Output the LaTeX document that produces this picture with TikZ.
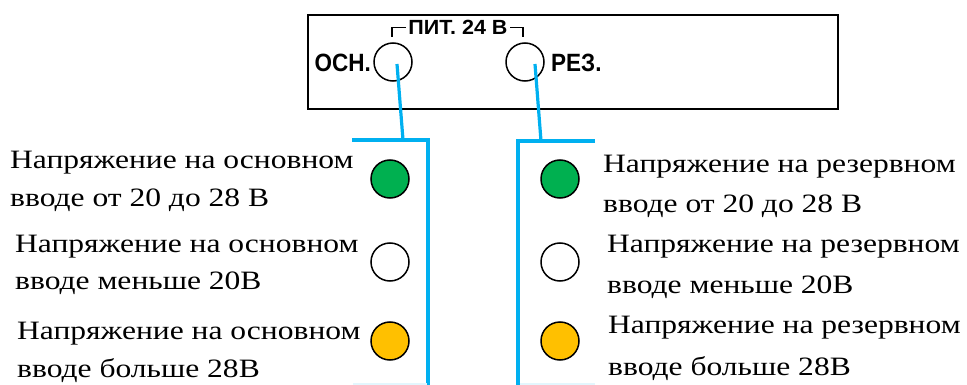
\documentclass[tikz,border=0pt]{standalone}
\usepackage{fontspec}
\setmainfont[FakeStretch=1.19]{Liberation Serif}
\newfontfamily\panelfont[FakeStretch=1.05]{Liberation Sans}
\newfontfamily\panelnarrow[FakeStretch=0.9]{Liberation Sans}
\definecolor{wire}{HTML}{00B0F0}
\definecolor{wirefade}{HTML}{E3F6FD}
\definecolor{ledgreen}{HTML}{00B050}
\definecolor{ledyellow}{HTML}{FFC000}
\tikzset{
  panel/.style={draw=black, line width=1.6pt},
  socket/.style={circle, draw=black, line width=1.5pt, minimum size=38pt, inner sep=0pt},
  led/.style={circle, draw=black, line width=1.5pt, minimum size=38pt, inner sep=0pt},
  wireline/.style={draw=wire, line width=3.2pt},
  wirefaint/.style={draw=wirefade, line width=2pt},
  caption/.style={anchor=base west, inner sep=0pt, font=\fontsize{26.5}{30}\selectfont},
  tag/.style={inner sep=0pt, font=\panelnarrow\bfseries\fontsize{25}{27}\selectfont},
}
\begin{document}
\begin{tikzpicture}[x=1pt, y=-1pt]
\useasboundingbox (0,0) rectangle (967,385);

% front panel
\draw[panel] (308,15) rectangle (838,109);
\node[socket] (osn) at (393,62) {};
\node[socket] (rez) at (525,62) {};
\node[tag, anchor=east] (osnlbl) at (371,63) {ОСН.};
\node[tag, anchor=west] (rezlbl) at (551,63) {РЕЗ.};
\node[inner sep=0pt, font=\panelfont\bfseries\fontsize{20.5}{22}\selectfont] (pit) at (458,27) {ПИТ. 24 В};
\draw[line width=1.3pt] (392,37) -- (392,27.5) -- (406,27.5);
\draw[line width=1.3pt] (510,27.5) -- (523,27.5) -- (523,37);

% wiring from the sockets to the indicator columns
\coordinate (osnend) at (397,64);
\coordinate (rezend) at (535,64);
\coordinate (lknee) at (403,140);
\coordinate (rknee) at (541,141);
\draw[wireline] (osnend) -- (lknee);
\draw[wireline] (rezend) -- (rknee);
\draw[wireline] (352,140) -- (428,140) -- (428,385);
\draw[wireline] (595,141) -- (518,141) -- (518,385);
\draw[wirefaint] (353,384) -- (427,384);
\draw[wirefaint] (520,384) -- (595,384);

% indicator lamps
\node[led, fill=ledgreen]  (lg) at (390,179) {};
\node[led, fill=white]     (lw) at (390,262) {};
\node[led, fill=ledyellow] (ly) at (390,341) {};
\node[led, fill=ledgreen]  (rg) at (560,179) {};
\node[led, fill=white]     (rw) at (560,262) {};
\node[led, fill=ledyellow] (ry) at (560,341) {};

% captions, main input
\node[caption] (la1) at (10,168) {Напряжение на основном};
\node[caption] (la2) at (10,206) {вводе от 20 до 28 В};
\node[caption] (lb1) at (15,252) {Напряжение на основном};
\node[caption] (lb2) at (15,289) {вводе меньше 20В};
\node[caption] (lc1) at (17,339) {Напряжение на основном};
\node[caption] (lc2) at (17,377) {вводе больше 28В};

% captions, reserve input
\node[caption] (ra1) at (603,172) {Напряжение на резервном};
\node[caption] (ra2) at (603,212) {вводе от 20 до 28 В};
\node[caption] (rb1) at (607,252) {Напряжение на резервном};
\node[caption] (rb2) at (607,293) {вводе меньше 20В};
\node[caption] (rc1) at (608,333) {Напряжение на резервном};
\node[caption] (rc2) at (608,375) {вводе больше 28В};
\end{tikzpicture}
\end{document}
